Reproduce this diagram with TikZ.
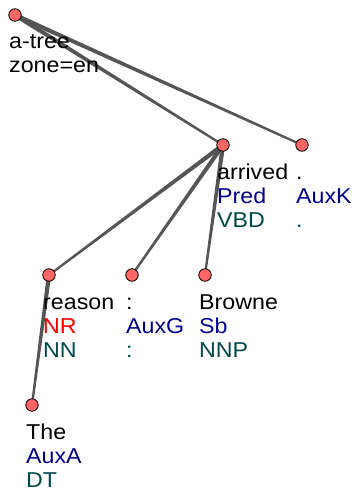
\documentclass[tikz,border=0pt]{standalone}
\usepackage{fontspec}
\setmainfont{Liberation Sans}[FakeStretch=1.08]
\usepackage{tikz}
\usetikzlibrary{calc}
\definecolor{nodeRed}{HTML}{FF6666}
\definecolor{edgeGray}{HTML}{555555}
\definecolor{afunBlue}{HTML}{00008B}
\definecolor{afunRed}{HTML}{FF0000}
\definecolor{posTeal}{HTML}{004848}
\tikzset{
	tnode/.style={circle,draw=black,fill=nodeRed,line width=0.8pt,minimum size=12.5pt,inner sep=0pt},
	tlabel/.style={anchor=base west,inner sep=0pt,font=\fontsize{21.5}{24}\selectfont}
}
% tapered edge, wide at the parent, narrow at the child
\newcommand\tedge[2]{
	\fill[edgeGray]($(#1)!2.2pt!90:(#2)$)--($(#2)!1.1pt!-90:(#1)$)
	--($(#2)!1.1pt!90:(#1)$)--($(#1)!2.2pt!-90:(#2)$)--cycle;
}
\begin{document}
\begin{tikzpicture}[x=1pt,y=-1pt]
			\useasboundingbox(0,0)rectangle(359,497);
			\foreach \n/\x/\y in{root/15/15,arrived/223/145,period/302/145,
				reason/49/275,colon/132/275,browne/205/275,the/32/405}
			{
				\coordinate(\n)at(\x,\y);
			}
			\tedge{root}{arrived}
			\tedge{root}{period}
			\tedge{arrived}{reason}
			\tedge{arrived}{colon}
			\tedge{arrived}{browne}
			\tedge{reason}{the}
			\foreach \n in{root,arrived,period,reason,colon,browne,the}
			{
				\node[tnode](c-\n)at(\n){};
			}
			\node[tlabel](w-root)at($(root)+(-6,34)$){a-tree};
			\node[tlabel](z-root)at($(root)+(-6,58)$){zone=en};
			\foreach \n/\w/\f/\fc/\p in{
				arrived/arrived/Pred/afunBlue/VBD,
				period/./AuxK/afunBlue/.,
				reason/reason/NR/afunRed/NN,
				colon/:/AuxG/afunBlue/:,
				browne/Browne/Sb/afunBlue/NNP,
				the/The/AuxA/afunBlue/DT}
			{
				\node[tlabel](w-\n)at($(\n)+(-6,34)$){\w};
				\node[tlabel,text=\fc](f-\n)at($(\n)+(-6,58)$){\f};
				\node[tlabel,text=posTeal](p-\n)at($(\n)+(-6,82)$){\p};
			}
		\end{tikzpicture}
\end{document}
